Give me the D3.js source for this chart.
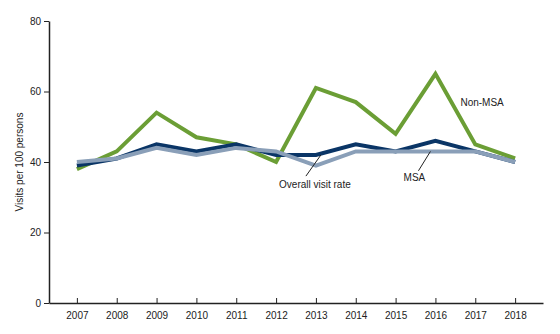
<!DOCTYPE html>
<html>
<head>
<meta charset="utf-8">
<script src="https://cdn.jsdelivr.net/npm/d3@7"></script>
<style>
    body { margin: 0; background: #fff; }
    text { font-family: "Liberation Sans", Arial, sans-serif; fill: #222; }
</style>
</head>
<body>
<div id="chart"></div>
<script>
const years = [2007, 2008, 2009, 2010, 2011, 2012, 2013, 2014, 2015, 2016, 2017, 2018];
const overall = [39, 41, 45, 43, 45, 42, 42, 45, 43, 46, 43, 40];
const msa = [40, 41, 44, 42, 44, 43, 39, 43, 43, 43, 43, 40];
const nonMsa = [38, 43, 54, 47, 45, 40, 61, 57, 48, 65, 45, 41];
const yTicks = [0, 20, 40, 60, 80];

const width = 560, height = 334;
const margin = { top: 21, right: 17, bottom: 31, left: 49 };

const svg = d3.select("#chart").append("svg")
    .attr("width", width)
    .attr("height", height);

const x = d3.scalePoint()
    .domain(years)
    .range([margin.left, width - margin.right])
    .padding(0.7);

const y = d3.scaleLinear()
    .domain([0, 80])
    .range([height - margin.bottom, margin.top]);

// axes
const xAxis = svg.append("g")
    .attr("transform", `translate(0,${height - margin.bottom})`)
    .call(d3.axisBottom(x).tickSize(5).tickSizeOuter(0));
xAxis.select(".domain").attr("stroke", "#222").attr("stroke-width", 1.5);
xAxis.selectAll(".tick line").attr("stroke", "#222").attr("y1", -5).attr("y2", 0);
xAxis.selectAll(".tick text").attr("y", 9).attr("font-size", 10).style("font-family", "Liberation Sans, Arial, sans-serif").attr("fill", "#222");

const yAxis = svg.append("g")
    .attr("transform", `translate(${margin.left},0)`)
    .call(d3.axisLeft(y).tickValues(yTicks).tickSize(5).tickSizeOuter(0));
yAxis.select(".domain").attr("stroke", "#222").attr("stroke-width", 1.5);
yAxis.selectAll(".tick line").attr("stroke", "#222");
yAxis.selectAll(".tick text").attr("x", -8).attr("font-size", 10).style("font-family", "Liberation Sans, Arial, sans-serif").attr("fill", "#222");

svg.append("text")
    .attr("transform", `translate(23,${(margin.top + height - margin.bottom) / 2}) rotate(-90)`)
    .attr("text-anchor", "middle")
    .attr("font-size", 10)
    .text("Visits per 100 persons");

// lines
const line = d3.line()
    .x((d, i) => x(years[i]))
    .y(d => y(d));

const series = [
    { values: nonMsa, color: "#6b9e35" },
    { values: overall, color: "#0a3566" },
    { values: msa, color: "#8a9fb8" }
];

series.forEach(s => {
    svg.append("path")
        .datum(s.values)
        .attr("fill", "none")
        .attr("stroke", s.color)
        .attr("stroke-width", 4)
        .attr("stroke-linejoin", "miter")
        .attr("d", line);
});

// labels
svg.append("text")
    .attr("x", x(2016) + 25)
    .attr("y", y(56))
    .attr("font-size", 10)
    .text("Non-MSA");

svg.append("text")
    .attr("x", x(2015) + 8)
    .attr("y", y(34.5))
    .attr("font-size", 10)
    .text("MSA");

svg.append("line")
    .attr("x1", x(2016) - 17).attr("y1", y(37.5))
    .attr("x2", x(2016) - 5).attr("y2", y(43))
    .attr("stroke", "#222").attr("stroke-width", 1);

svg.append("text")
    .attr("x", x(2012) + 3)
    .attr("y", y(32.5))
    .attr("font-size", 10)
    .text("Overall visit rate");

svg.append("line")
    .attr("x1", x(2013) - 10).attr("y1", y(36))
    .attr("x2", x(2013) + 5).attr("y2", y(42))
    .attr("stroke", "#222").attr("stroke-width", 1);
</script>
</body>
</html>
